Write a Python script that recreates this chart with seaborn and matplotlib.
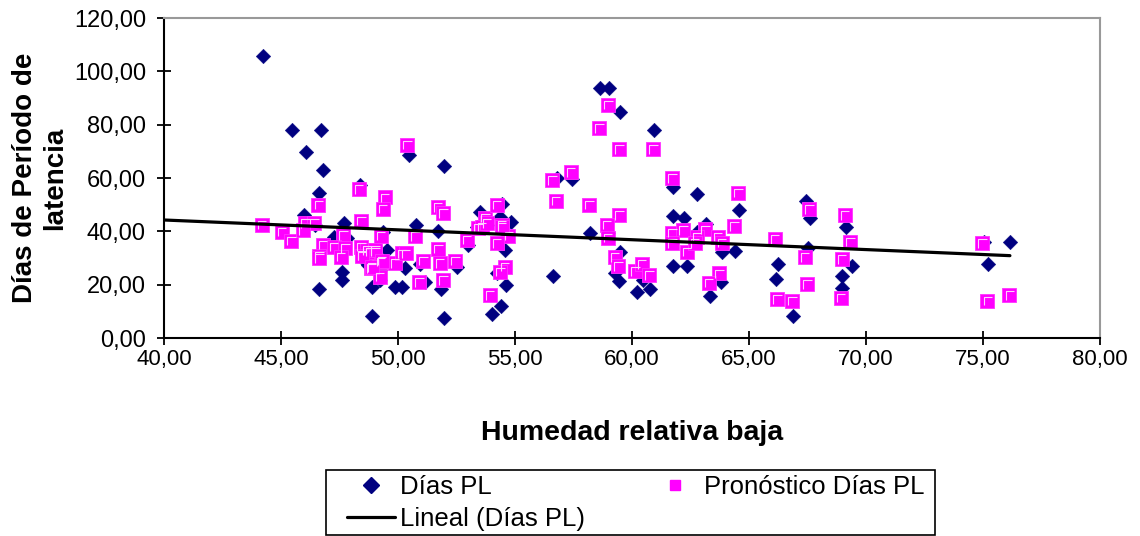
import numpy as np
import pandas as pd
import matplotlib
matplotlib.use("Agg")
import matplotlib.pyplot as plt
from matplotlib.path import Path
from matplotlib.lines import Line2D
from matplotlib.patches import Rectangle
import seaborn as sns

# ---- data ----
dias_x = [44.22, 45.46, 46.70, 46.06, 46.78, 46.61, 45.98, 48.38, 47.69, 47.25,
          47.81, 47.59, 47.59, 46.61, 48.87, 48.87, 49.51, 49.37, 49.87, 50.16,
          48.59, 49.23, 50.32, 49.23, 50.45, 51.97, 50.77, 51.72, 50.94, 51.15,
          51.84, 52.50, 53.01, 53.50, 54.43, 54.36, 54.83, 53.79, 54.57, 54.22,
          54.62, 54.40, 54.00, 51.97, 58.63, 59.03, 59.49, 60.96, 56.78, 57.45,
          61.77, 61.77, 62.24, 58.21, 58.99, 56.64, 59.49, 59.27, 59.46, 60.45,
          60.77, 60.20, 61.77, 62.34, 62.76, 63.18, 62.76, 64.57, 63.86, 64.40,
          63.80, 63.33, 66.25, 66.15, 66.87, 67.44, 67.61, 67.54, 69.15, 69.39,
          68.99, 68.99, 75.06, 76.15, 75.23, 53.36, 46.45, 48.70]
dias_y = [105.7, 78.0, 78.0, 69.6, 62.9, 54.3, 46.1, 57.4, 43.2, 38.0,
          37.4, 24.9, 21.7, 18.4, 19.3, 8.2, 33.0, 39.6, 19.3, 19.3,
          28.8, 25.5, 26.1, 21.7, 68.8, 64.5, 42.4, 40.2, 27.7, 21.1,
          18.4, 26.7, 34.9, 47.4, 50.1, 45.5, 43.6, 42.4, 33.0, 24.2,
          19.9, 12.0, 9.0, 7.4, 93.6, 93.6, 84.6, 78.0, 59.9, 59.5,
          56.7, 45.7, 44.9, 39.5, 39.5, 23.2, 32.4, 24.2, 21.4, 21.7,
          18.3, 17.1, 27.0, 27.0, 54.0, 42.6, 39.9, 48.0, 32.4, 32.7,
          21.1, 15.7, 27.7, 22.0, 8.2, 51.4, 44.9, 33.6, 41.5, 27.0,
          23.2, 18.9, 36.1, 35.9, 27.6, 41.7, 42.5, 27.5]

prono_x = [44.17, 45.03, 45.43, 46.03, 46.42, 45.95, 46.60, 48.33, 49.44, 49.34,
           48.42, 47.66, 49.27, 46.78, 47.26, 47.74, 46.64, 46.64, 47.56, 48.45,
           48.80, 49.02, 48.85, 49.27, 49.23, 49.87, 50.40, 51.70, 51.94, 50.73,
           50.16, 50.33, 51.08, 50.90, 51.72, 51.79, 51.94, 52.44, 52.94, 53.72,
           53.43, 54.22, 54.43, 54.72, 54.22, 54.57, 54.36, 53.93, 58.99, 58.60,
           59.46, 60.91, 57.39, 56.59, 56.75, 58.18, 59.46, 58.92, 58.96, 61.72,
           61.72, 62.19, 61.72, 62.34, 59.27, 59.41, 60.13, 60.41, 60.74, 64.54,
           64.37, 63.12, 62.76, 62.69, 63.66, 63.83, 63.72, 63.29, 66.11, 66.21,
           66.85, 67.58, 67.39, 67.49, 69.10, 69.32, 68.96, 68.93, 74.96, 75.19,
           76.13, 48.42, 48.66, 49.02, 48.45, 49.30, 48.87, 53.58, 54.43, 53.80]
prono_y = [42.4, 39.9, 36.4, 43.0, 43.2, 40.5, 49.9, 55.8, 52.7, 48.4,
           43.9, 38.6, 38.3, 34.9, 34.2, 33.6, 30.9, 30.0, 30.5, 31.1,
           32.4, 32.4, 26.1, 28.6, 23.0, 28.0, 72.4, 49.0, 46.8, 38.2,
           31.7, 31.7, 28.9, 20.9, 33.4, 28.0, 21.7, 28.9, 36.8, 45.1,
           41.1, 49.9, 42.4, 38.3, 35.5, 26.7, 24.9, 16.1, 87.4, 78.6,
           70.8, 70.8, 62.1, 59.2, 51.4, 49.9, 46.1, 42.4, 37.6, 59.9,
           39.5, 40.5, 35.5, 32.4, 30.3, 27.0, 25.1, 27.7, 23.6, 54.5,
           42.0, 40.7, 38.0, 35.5, 38.0, 35.7, 24.2, 20.7, 37.1, 14.5,
           13.9, 48.3, 30.3, 20.1, 46.1, 36.1, 29.5, 15.1, 35.5, 13.9,
           16.1, 34.2, 33.0, 33.0, 30.8, 29.0, 26.5, 41.7, 41.7, 43.0]

x_ticks = [40, 45, 50, 55, 60, 65, 70, 75, 80]
y_ticks = [0, 20, 40, 60, 80, 100, 120]

x_label = "Humedad relativa baja"
y_label = "Días de Período de\nlatencia"
series_names = ["Días PL", "Pronóstico Días PL", "Lineal (Días PL)"]

NAVY = "#000080"
PINK = "#FF00FF"

sns.set_style("white")
plt.rcParams["font.family"] = ["Liberation Sans", "DejaVu Sans"]
plt.rcParams["text.color"] = "black"
plt.rcParams["axes.labelcolor"] = "black"

df_d = pd.DataFrame({"x": dias_x, "y": dias_y})
df_p = pd.DataFrame({"x": prono_x, "y": prono_y})

W, H = 1140, 536
fig = plt.figure(figsize=(W / 100, H / 100), dpi=100)
ax = fig.add_axes([164 / W, 1 - 338 / H, (1100 - 164) / W, (338 - 18) / H])

sns.scatterplot(data=df_d, x="x", y="y", marker="D", s=55, color=NAVY,
                edgecolor=NAVY, linewidth=0.3, ax=ax, zorder=3, legend=False)
sns.scatterplot(data=df_p, x="x", y="y", marker="s", s=92, color=PINK,
                edgecolor="#FF33FF", linewidth=0.6, ax=ax, zorder=4, legend=False)
# small highlight inside the squares (top/left edges)
hl = Path([(-0.28, -0.32), (-0.28, 0.28), (0.32, 0.28)],
          [Path.MOVETO, Path.LINETO, Path.LINETO])
ax.scatter(df_p["x"], df_p["y"], marker=hl, s=42, facecolors="none",
           edgecolors="#FFD0FF", linewidths=0.8, zorder=5)

# linear trend of Días PL
coef = np.polyfit(dias_x, dias_y, 1)
tx = np.array([x_ticks[0], max(dias_x)])
sns.lineplot(x=tx, y=np.polyval(coef, tx), color="black", linewidth=2.3,
             ax=ax, zorder=6, legend=False)

ax.set_xlim(x_ticks[0], x_ticks[-1])
ax.set_ylim(y_ticks[0], y_ticks[-1])
ax.set_xticks(x_ticks)
ax.set_yticks(y_ticks)
fmt = lambda v: f"{v:.2f}".replace(".", ",")
ax.set_xticklabels([fmt(v) for v in x_ticks])
ax.set_yticklabels([fmt(v) for v in y_ticks])
ax.tick_params(axis="both", direction="inout", length=10, width=1.3,
               colors="black")
ax.tick_params(axis="x", labelsize=16, pad=3)
ax.tick_params(axis="y", labelsize=17, pad=8)
ax.tick_params(axis="both", which="both", bottom=True, left=True, top=False, right=False)

for side in ["left", "bottom"]:
    ax.spines[side].set_color("black")
    ax.spines[side].set_linewidth(1.5)
for side in ["top", "right"]:
    ax.spines[side].set_color("#999999")
    ax.spines[side].set_linewidth(1.5)
    ax.spines[side].set_visible(True)

ax.set_xlabel(x_label, fontsize=20.5, fontweight="bold", labelpad=36)
ax.set_ylabel(y_label, fontsize=20, fontweight="bold", labelpad=4, linespacing=1.2)

handles = [
    Line2D([], [], marker="D", linestyle="none", color=NAVY, markersize=8.5),
    Line2D([], [], color="black", linewidth=2.3),
    Line2D([], [], marker="s", linestyle="none", color=PINK, markersize=7.5),
]
labels = [series_names[0], series_names[2], series_names[1]]
leg = fig.legend(handles, labels, ncol=2, loc="upper left",
                 bbox_to_anchor=(347 / W, 1 - 475 / H), fontsize=18.5, frameon=False,
                 borderpad=0, handlelength=1.87, handletextpad=0.2,
                 columnspacing=2.57, labelspacing=0.32, borderaxespad=0)
# legend box outline
fig.add_artist(Rectangle((326 / W, 1 / H), (935 - 326) / W, (536 - 470 - 1) / H,
                         transform=fig.transFigure, fill=False,
                         edgecolor="black", linewidth=1.2))

fig.savefig("out.png", dpi=100, facecolor="white")
